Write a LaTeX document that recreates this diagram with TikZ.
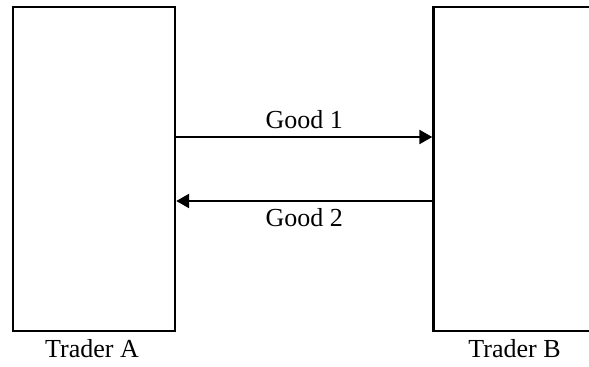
\documentclass[tikz,border=0pt]{standalone}
\usepackage{fontspec}
\setmainfont{Liberation Serif}
\usetikzlibrary{positioning,arrows.meta}

\begin{document}
\begin{tikzpicture}[x=0.5pt, y=0.5pt, font=\fontsize{13}{15}\selectfont,
    trader/.style={draw, line width=1.2pt, minimum width=81pt, minimum height=162pt, inner sep=0pt},
    flow/.style={line width=1.2pt, -{Triangle[length=6.5pt, width=7pt]}}]
    \useasboundingbox (0,0) rectangle (589,366);

    % Draw the traders
    \node[trader] (traderA) at (94,197) {};
    \node[trader] (traderB) at (514.5,197) {};

    % Labels
    \node[below=0pt of traderA, xshift=-1pt] (nameA) {Trader A};
    \node[below=0pt of traderB] (nameB) {Trader B};

    % Draw the goods
    \draw[flow] ([yshift=16pt]traderA.east) -- node[above] (good1) {Good 1} ([yshift=16pt]traderB.west);
    \draw[flow] ([yshift=-16pt]traderB.west) -- node[below] (good2) {Good 2} ([yshift=-16pt]traderA.east);
\end{tikzpicture}
\end{document}
